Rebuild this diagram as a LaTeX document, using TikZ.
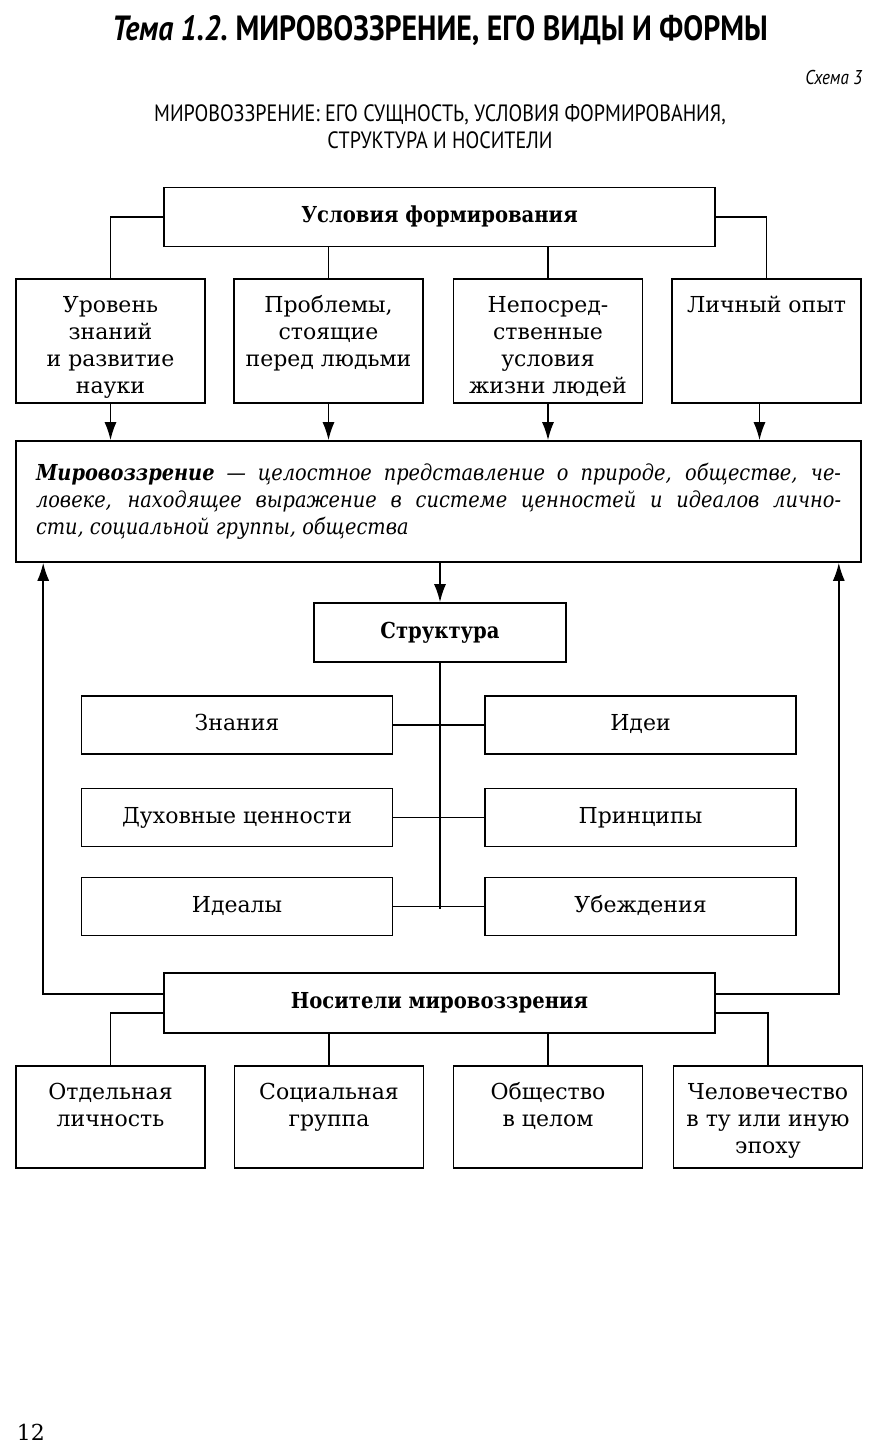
\documentclass[tikz,border=0pt]{standalone}
\usepackage{fontspec}
\setmainfont{DejaVu Serif}[BoldFeatures={FakeStretch=0.89}]
\newfontfamily\headfont[FakeStretch=0.85]{PT Sans}
\newfontfamily\defnfont[FakeStretch=0.88]{DejaVu Serif}
\usetikzlibrary{arrows.meta}

% text set at the top of a box: height, width, lines
\newcommand{\toptext}[3]{\parbox[c][#1][t]{#2}{\centering\rule{0pt}{16.5pt}#3}}

\begin{document}
\begin{tikzpicture}[x=0.5pt, y=-0.5pt, line width=0.8pt,
  >={Latex[length=9pt,width=6pt]},
  txt/.style={font=\fontsize{11}{13.5}\selectfont},
  head/.style={draw, inner sep=0pt, minimum width=275.5pt, minimum height=29.5pt,
    text height=8pt, text depth=2.5pt, font=\fontsize{11}{13.5}\selectfont\bfseries},
  upbox/.style={txt, draw, inner sep=0pt},
  midbox/.style={txt, draw, inner sep=0pt, minimum width=155.5pt, minimum height=29pt,
    text height=8pt, text depth=2.5pt}]
  \useasboundingbox (0,0) rectangle (880,1456);

  % Heading
  \node[inner sep=0pt] (title) at (440,30) {\headfont\fontsize{17.5}{20}\selectfont\bfseries\itshape Тема 1.2.\upshape\ МИРОВОЗЗРЕНИЕ, ЕГО ВИДЫ И ФОРМЫ};
  \node[anchor=east, inner sep=0pt] (scheme) at (863,77) {\headfont\fontsize{10}{12}\selectfont\itshape Схема 3};
  \node[align=center, inner sep=0pt, font=\headfont\fontsize{11.8}{13.5}\selectfont] (subtitle) at (440,127)
    {МИРОВОЗЗРЕНИЕ: ЕГО СУЩНОСТЬ, УСЛОВИЯ ФОРМИРОВАНИЯ,\\ СТРУКТУРА И НОСИТЕЛИ};

  % Conditions
  \node[head] (cond) at (439.5,217) {Условия формирования};
  \node[upbox] (lev) at (110.5,341) {\toptext{62pt}{94.5pt}{Уровень\\знаний\\и развитие\\науки}};
  \node[upbox] (prob) at (328.5,341) {\toptext{62pt}{94.5pt}{Проблемы,\\стоящие\\перед людьми}};
  \node[upbox] (direct) at (548,341) {\toptext{62pt}{94.5pt}{Непосред-\\ственные\\условия\\жизни людей}};
  \node[upbox] (pers) at (766.5,341) {\toptext{62pt}{94.5pt}{Личный опыт}};

  \draw (cond.west) -| (lev.north);
  \draw (cond.south -| prob.north) -- (prob.north);
  \draw (cond.south -| direct.north) -- (direct.north);
  \draw (cond.east) -| (pers.north);

  % Worldview
  \node[draw, inner xsep=10pt, inner ysep=0pt, minimum width=422.5pt, minimum height=60.5pt,
    text width=402.5pt, align=justify, font=\defnfont\fontsize{11}{13.5}\selectfont\itshape] (wv) at (438.5,501.5)
    {\textbf{Мировоззрение} — целостное представление о природе, обществе, че-\linebreak
     ловеке, находящее выражение в системе ценностей и идеалов лично-\linebreak
     сти, социальной группы, общества};

  \draw[->] (lev.south) -- (lev.south |- wv.north);
  \draw[->] (prob.south) -- (prob.south |- wv.north);
  \draw[->] (direct.south) -- (direct.south |- wv.north);
  \draw[->] ([xshift=-3.5pt]pers.south) -- ([xshift=-3.5pt]pers.south |- wv.north);

  % Structure
  \node[head, minimum width=126pt] (struct) at (440,632.5) {Структура};
  \draw[->] (struct.north |- wv.south) -- (struct.north);

  \node[midbox] (know) at (237,725) {Знания};
  \node[midbox] (ideas) at (640.5,725) {Идеи};
  \node[midbox] (spir) at (237,817.5) {Духовные ценности};
  \node[midbox] (princ) at (640.5,817.5) {Принципы};
  \node[midbox] (ideals) at (237,906.5) {Идеалы};
  \node[midbox] (conv) at (640.5,906.5) {Убеждения};

  \coordinate (spine) at ([yshift=-1pt]struct.south |- ideals.east);
  \draw (struct.south) -- (spine);
  \draw (know.east) -- (ideas.west);
  \draw (spir.east) -- (princ.west);
  \draw (ideals.east) -- (conv.west);

  % Carriers
  \node[head, minimum height=30pt] (carr) at (439.5,1003) {Носители мировоззрения};
  \draw[->] ([yshift=4.5pt]carr.west) -| ([xshift=14pt]wv.south west);
  \draw[->] ([yshift=4.5pt]carr.east) -| ([xshift=-11.5pt]wv.south east);

  \node[upbox] (indiv) at (110.5,1117) {\toptext{51pt}{94.5pt}{Отдельная\\личность}};
  \node[upbox] (group) at (329,1117) {\toptext{51pt}{94.5pt}{Социальная\\группа}};
  \node[upbox] (soc) at (548,1117) {\toptext{51pt}{94.5pt}{Общество\\в целом}};
  \node[upbox] (human) at (768,1117) {\toptext{51pt}{94.5pt}{Человечество\\в ту или иную\\эпоху}};

  \draw ([yshift=-5pt]carr.west) -| (indiv.north);
  \draw (carr.south -| group.north) -- (group.north);
  \draw (carr.south -| soc.north) -- (soc.north);
  \draw ([yshift=-5pt]carr.east) -| (human.north);

  % Page number
  \node[txt, anchor=west, inner sep=0pt] (page) at (16,1432) {12};
\end{tikzpicture}
\end{document}
